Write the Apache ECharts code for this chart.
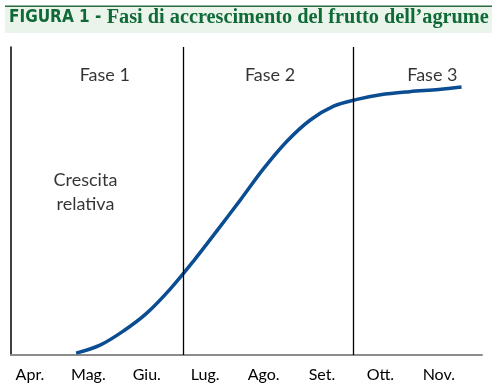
<!DOCTYPE html>
<html><head><meta charset="utf-8">
<script src="https://cdn.jsdelivr.net/npm/echarts@6/dist/echarts.min.js"></script>
<style>html,body{margin:0;padding:0;background:#fff}#c{width:499px;height:390px}</style>
</head><body><div id="c"></div>
<script>
const months = ['Apr.', 'Mag.', 'Giu.', 'Lug.', 'Ago.', 'Set.', 'Ott.', 'Nov.'];
// x position in months from April (0 = Apr.), y = relative growth (0-100)
const curveX = [0.79, 1.2, 1.6, 2.0, 2.4, 2.8, 3.2, 3.6, 4.0, 4.4, 4.8, 5.2, 5.6, 6.0, 6.5, 7.0, 7.39];
const curveY = [0.6, 3.2, 7.8, 13.6, 21.4, 30.5, 40.3, 50.3, 60.5, 69.4, 76.3, 80.8, 83.0, 84.5, 85.5, 86.2, 87.0];
const phaseBounds = [2.62, 5.53];
const phaseLabels = ['Fase 1', 'Fase 2', 'Fase 3'];
const phaseCenters = [1.28, 4.11, 6.89];
const yLabel = 'Crescita\nrelativa';

const chart = echarts.init(document.getElementById('c'), null, {renderer: 'canvas'});
const green = '#0f6a38';
const sans = "Lato, 'Open Sans', sans-serif";
chart.setOption({
  animation: false,
  graphic: [
    {type: 'rect', shape: {x: 5, y: 7, width: 487, height: 26}, style: {fill: '#eaf4eb'}, z: 0},
    {type: 'rect', shape: {x: 5, y: 5.5, width: 487, height: 1.6}, style: {fill: '#2c6b3f'}, z: 1},
    {type: 'text', left: 9, top: 8, z: 2, style: {
      text: '{a|FIGURA 1 - }{b|Fasi di accrescimento del frutto dell’agrume}',
      rich: {
        a: {fontFamily: "'DejaVu Sans Condensed', sans-serif", fontWeight: 'bold', fontSize: 17, fill: green},
        b: {fontFamily: "'Liberation Serif', 'DejaVu Serif', serif", fontWeight: 'bold', fontSize: 20.3, fill: green}
      }
    }}
  ],
  grid: {left: 11, right: 17, top: 47, bottom: 35},
  xAxis: {
    type: 'value', min: -0.325, max: 7.74,
    axisLine: {show: true, lineStyle: {color: '#8c8c8c', width: 2}},
    axisTick: {show: false},
    splitLine: {show: false},
    axisLabel: {
      customValues: months.map((m, i) => i),
      formatter: v => months[Math.round(v)] || '',
      color: '#000', fontSize: 16, fontFamily: sans, margin: 12
    }
  },
  yAxis: {
    type: 'value', min: 0, max: 100,
    axisLine: {show: true, onZero: false, lineStyle: {color: '#000', width: 1.5}},
    axisTick: {show: false}, axisLabel: {show: false}, splitLine: {show: false}
  },
  series: [
    {
      type: 'line', smooth: 0.35, symbol: 'none',
      data: curveX.map((x, i) => [x, curveY[i]]),
      lineStyle: {color: '#0b4d92', width: 3.5},
      z: 3,
      markLine: {
        silent: true, symbol: 'none', label: {show: false},
        lineStyle: {color: '#000', width: 1.3, type: 'solid'},
        data: phaseBounds.map(b => ({xAxis: b}))
      }
    },
    {
      type: 'scatter', symbolSize: 0, silent: true,
      data: phaseLabels.map((t, i) => ({value: [phaseCenters[i], 91], name: t})),
      label: {show: true, position: 'inside', formatter: p => p.name, color: '#000', fontSize: 18, fontFamily: sans}
    },
    {
      type: 'scatter', symbolSize: 0, silent: true,
      data: [{value: [0.95, 53], name: yLabel}],
      label: {show: true, position: 'inside', formatter: p => p.name, color: '#000', fontSize: 18, lineHeight: 24, fontFamily: sans}
    }
  ]
});
</script></body></html>
